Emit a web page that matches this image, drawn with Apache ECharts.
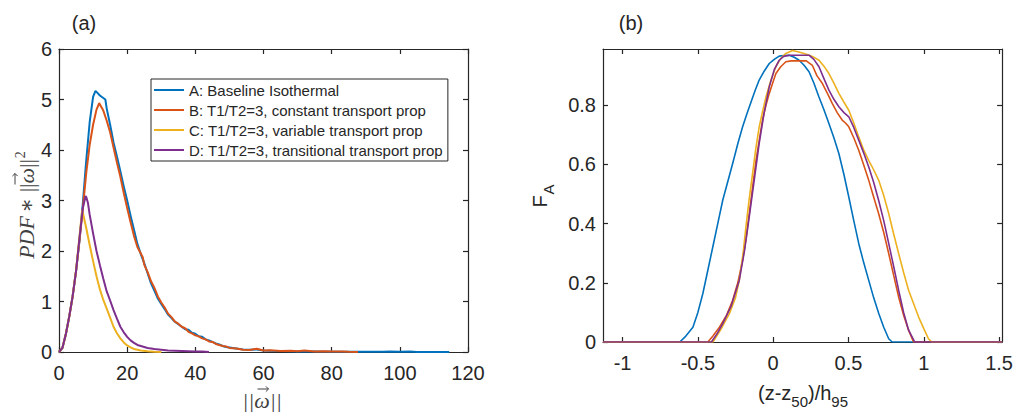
<!DOCTYPE html>
<html>
<head>
<meta charset="utf-8">
<script src="https://cdn.jsdelivr.net/npm/echarts@6/dist/echarts.min.js"></script>
<style>
  html, body { margin: 0; padding: 0; background: #ffffff; }
  #chart { width: 1016px; height: 412px; }
</style>
</head>
<body>
<div id="chart"></div>
<script>
// Case names and line colours
const caseNames = [
  'A: Baseline Isothermal',
  'B: T1/T2=3, constant transport prop',
  'C: T1/T2=3, variable transport prop',
  'D: T1/T2=3, transitional transport prop'
];
const caseColors = ['#0072BD', '#D95319', '#EDB120', '#7E2F8E'];

// Panel (a): PDF * ||w||^2 versus vorticity magnitude ||w||
const vortA_x = [0,1,2,3,4,5,6,7,8,9,10,10.7,11,12,13,13.6,14,15,16,17,18,19,20,21,22,23,24,25,26,27,28,29,30,31,32,33,34,35,36,37,38,39,40,41,42,43,44,45,46,47,48,49,50,52,54,56,58,60,62,65,68,70,75,80,85,90,95,97,100,103,105,110,114.5];
const vortA_y = [0,0.08,0.35,0.7,1.1,1.6,2.2,2.95,3.8,4.55,5.05,5.17,5.15,5.08,5.03,5.0,4.82,4.5,4.15,3.87,3.58,3.28,3.0,2.7,2.42,2.14,1.94,1.76,1.56,1.36,1.21,1.06,0.95,0.85,0.74,0.67,0.6,0.55,0.5,0.45,0.44,0.38,0.36,0.31,0.3,0.25,0.23,0.2,0.17,0.15,0.12,0.1,0.09,0.07,0.05,0.045,0.05,0.03,0.025,0.02,0.015,0.01,0.012,0.006,0.005,0.003,0.004,0.012,0.003,0.008,0.002,0.002,0];
const vortB_x = [0,1,2,3,4,5,6,7,8,9,10,11,11.8,12,13,14,15,16,17,18,19,20,21,22,23,24,24.6,25,26,27,28,29,30,31,32,33,34,35,36,37,38,39,40,41,42,43,44,45,46,47,48,49,50,52,54,56,58,60,62,65,68,70,72,75,78,80,83,85,87.7];
const vortB_y = [0,0.08,0.35,0.7,1.1,1.6,2.2,2.85,3.55,4.1,4.5,4.8,4.93,4.9,4.78,4.58,4.35,4.05,3.75,3.47,3.15,2.85,2.57,2.3,2.08,1.95,1.87,1.73,1.58,1.4,1.27,1.1,0.98,0.88,0.76,0.69,0.6,0.56,0.5,0.47,0.4,0.37,0.33,0.31,0.27,0.25,0.21,0.2,0.16,0.14,0.12,0.11,0.08,0.07,0.045,0.04,0.065,0.03,0.035,0.02,0.025,0.015,0.03,0.01,0.015,0.008,0.01,0.005,0];
const vortC_x = [0,1,2,3,4,5,6,6.8,7,8,9,10,11,12,13,14,15,16,17,18,19,20,21,22,24,26,28,30];
const vortC_y = [0,0.08,0.35,0.7,1.1,1.62,2.28,2.81,2.76,2.45,2.12,1.8,1.5,1.24,1.03,0.86,0.68,0.5,0.37,0.27,0.19,0.13,0.09,0.06,0.03,0.015,0.006,0];
const vortD_x = [0,1,2,3,4,5,6,7,7.8,8,8.5,9,10,11,12,13,14,15,16,17,18,19,20,21,22,23,24,25,26,27,28,30,32,34,36,38,40,42,44];
const vortD_y = [0,0.08,0.35,0.7,1.1,1.6,2.25,2.85,3.09,3.07,2.95,2.72,2.35,2.0,1.72,1.45,1.2,1.02,0.83,0.66,0.5,0.39,0.3,0.23,0.18,0.14,0.12,0.1,0.08,0.07,0.06,0.045,0.03,0.025,0.02,0.015,0.01,0.008,0];

// Panel (b): F_A versus (z - z50)/h95
const profA_x = [-1.13,-0.62,-0.58,-0.533,-0.5,-0.467,-0.435,-0.401,-0.368,-0.335,-0.3,-0.269,-0.235,-0.203,-0.175,-0.147,-0.12,-0.093,-0.06,-0.026,0.007,0.04,0.075,0.106,0.14,0.172,0.205,0.238,0.27,0.304,0.337,0.37,0.403,0.436,0.47,0.502,0.535,0.568,0.6,0.634,0.667,0.701,0.734,0.767,0.79,1.52];
const profA_y = [0,0,0.02,0.05,0.1,0.164,0.24,0.321,0.4,0.479,0.545,0.603,0.67,0.727,0.77,0.811,0.85,0.885,0.915,0.941,0.955,0.966,0.968,0.969,0.962,0.952,0.935,0.913,0.875,0.828,0.785,0.738,0.69,0.637,0.565,0.49,0.41,0.333,0.27,0.209,0.15,0.096,0.05,0.011,0,0];
const profB_x = [-1.13,-0.434,-0.4,-0.357,-0.31,-0.269,-0.235,-0.203,-0.18,-0.159,-0.135,-0.114,-0.09,-0.071,-0.048,-0.026,0,0.018,0.05,0.084,0.12,0.17,0.22,0.26,0.29,0.326,0.36,0.392,0.425,0.458,0.48,0.502,0.535,0.568,0.6,0.634,0.667,0.7,0.734,0.767,0.8,0.833,0.866,0.899,0.932,1.52];
const profB_y = [0,0,0.02,0.05,0.09,0.141,0.2,0.276,0.35,0.434,0.53,0.614,0.69,0.75,0.8,0.84,0.88,0.907,0.93,0.947,0.95,0.95,0.95,0.935,0.9,0.874,0.84,0.806,0.775,0.75,0.74,0.727,0.69,0.648,0.6,0.547,0.49,0.434,0.37,0.299,0.225,0.152,0.09,0.04,0,0];
const profC_x = [-1.13,-0.4,-0.35,-0.291,-0.25,-0.225,-0.2,-0.181,-0.16,-0.137,-0.115,-0.093,-0.07,-0.048,-0.015,0.018,0.05,0.084,0.128,0.17,0.216,0.26,0.304,0.337,0.37,0.403,0.436,0.47,0.502,0.535,0.568,0.6,0.634,0.667,0.7,0.734,0.767,0.8,0.833,0.866,0.899,0.932,0.965,1.0,1.031,1.053,1.52];
const profC_y = [0,0,0.04,0.096,0.15,0.209,0.3,0.389,0.48,0.569,0.655,0.727,0.78,0.828,0.885,0.93,0.958,0.975,0.985,0.98,0.973,0.965,0.952,0.932,0.907,0.875,0.84,0.81,0.783,0.74,0.693,0.65,0.614,0.582,0.547,0.495,0.434,0.365,0.299,0.235,0.175,0.13,0.085,0.045,0.011,0,0];
const profD_x = [-1.13,-0.41,-0.37,-0.335,-0.28,-0.225,-0.19,-0.159,-0.125,-0.093,-0.06,-0.026,0.007,0.04,0.07,0.106,0.17,0.238,0.27,0.304,0.337,0.37,0.403,0.436,0.47,0.502,0.535,0.568,0.6,0.634,0.667,0.7,0.734,0.767,0.8,0.833,0.866,0.899,0.94,1.52];
const profD_y = [0,0,0.03,0.062,0.12,0.209,0.31,0.423,0.55,0.671,0.775,0.862,0.92,0.952,0.965,0.969,0.969,0.969,0.955,0.93,0.89,0.851,0.82,0.795,0.775,0.761,0.725,0.682,0.64,0.592,0.54,0.479,0.41,0.333,0.255,0.175,0.1,0.04,0,0];

// Tick values
const ticksA_x = [0, 20, 40, 60, 80, 100, 120];
const ticksA_y = [0, 1, 2, 3, 4, 5, 6];
const ticksB_x = [-1, -0.5, 0, 0.5, 1, 1.5];
const ticksB_y = [0, 0.2, 0.4, 0.6, 0.8];

const zip = (xs, ys) => xs.map((x, i) => [x, ys[i]]);
const ink = '#262626';
const mathInk = '#404040';
const sans = 'Liberation Sans, Arial, Helvetica, sans-serif';
const serif = 'Liberation Serif, DejaVu Serif, serif';

function axis(kind, gridIndex, min, max, ticks, position, labelled) {
  return {
    type: 'value', gridIndex, min, max, position,
    axisLine: { show: true, onZero: false, lineStyle: { color: ink, width: 1.2 } },
    axisTick: { show: true, inside: true, length: 5, customValues: ticks, lineStyle: { color: ink, width: 1.2 } },
    axisLabel: {
      show: labelled, customValues: ticks, color: ink, fontSize: 20, fontFamily: sans,
      margin: kind === 'x' ? 11 : 7
    },
    splitLine: { show: false }
  };
}

const chart = echarts.init(document.getElementById('chart'), null, { renderer: 'svg' });

const seriesA = [vortA_x, vortB_x, vortC_x, vortD_x].map((xs, i) => ({
  name: caseNames[i], type: 'line', xAxisIndex: 0, yAxisIndex: 0, symbol: 'none',
  data: zip(xs, [vortA_y, vortB_y, vortC_y, vortD_y][i]),
  lineStyle: { color: caseColors[i], width: 2 }, itemStyle: { color: caseColors[i] },
  animation: false
}));
const seriesB = [profA_x, profB_x, profC_x, profD_x].map((xs, i) => ({
  name: caseNames[i], type: 'line', xAxisIndex: 2, yAxisIndex: 2, symbol: 'none',
  data: zip(xs, [profA_y, profB_y, profC_y, profD_y][i]),
  lineStyle: { color: caseColors[i], width: 1.6 }, itemStyle: { color: caseColors[i] },
  animation: false
}));

// vector accent over an omega, drawn as a tiny arrow (horizontal or pointing up)
function vecAccent(cx, cy, vertical) {
  const L = 5.5, H = 2.6;
  const shaft = vertical ? [[cx, cy + L], [cx, cy - L]] : [[cx - L, cy], [cx + L, cy]];
  const head = vertical
    ? [[cx - H, cy - L + H], [cx, cy - L], [cx + H, cy - L + H]]
    : [[cx + L - H, cy - H], [cx + L, cy], [cx + L - H, cy + H]];
  const st = { stroke: mathInk, lineWidth: 1, fill: null };
  return { type: 'group', children: [
    { type: 'polyline', shape: { points: shaft }, style: st },
    { type: 'polyline', shape: { points: head }, style: st }
  ] };
}

chart.setOption({
  animation: false,
  backgroundColor: '#ffffff',
  grid: [
    { left: 59, top: 49, width: 409, height: 303 },
    { left: 603, top: 49, width: 401, height: 293 }
  ],
  xAxis: [
    axis('x', 0, 0, 120, ticksA_x, 'bottom', true),
    axis('x', 0, 0, 120, ticksA_x, 'top', false),
    axis('x', 1, -1.13, 1.52, ticksB_x, 'bottom', true),
    axis('x', 1, -1.13, 1.52, ticksB_x, 'top', false)
  ],
  yAxis: [
    axis('y', 0, 0, 6, ticksA_y, 'left', true),
    axis('y', 0, 0, 6, ticksA_y, 'right', false),
    axis('y', 1, 0, 0.99, ticksB_y, 'left', true),
    axis('y', 1, 0, 0.99, ticksB_y, 'right', false)
  ],
  legend: {
    data: caseNames, orient: 'vertical', left: 151, top: 79,
    icon: 'rect', itemWidth: 30, itemHeight: 2, itemGap: 0,
    padding: [1, 5, 1, 3], borderColor: ink, borderWidth: 1, backgroundColor: '#ffffff',
    selectedMode: false,
    textStyle: { fontSize: 15, lineHeight: 20, color: ink, fontFamily: sans }
  },
  graphic: [
    { type: 'text', x: 84, y: 23, style: { text: '(a)', fill: ink, font: '20px ' + sans, align: 'center', verticalAlign: 'middle' } },
    { type: 'text', x: 631, y: 23, style: { text: '(b)', fill: ink, font: '20px ' + sans, align: 'center', verticalAlign: 'middle' } },
    // x label of panel (a): ||w|| with vector accent
    { type: 'text', x: 262, y: 400, style: {
        text: '||ω||', fill: mathInk, font: 'italic 22px ' + serif,
        align: 'center', verticalAlign: 'middle' } },
    vecAccent(263, 389, false),
    // y label of panel (a): PDF * ||w||^2
    { type: 'text', x: 25, y: 205, rotation: Math.PI / 2, style: {
        text: '{i|PDF} {n|∗ ||}{i|ω}{n|||}{p|2}', fill: mathInk, align: 'center', verticalAlign: 'middle',
        rich: {
          i: { fontSize: 22, fontStyle: 'italic', fontFamily: serif, fill: mathInk, verticalAlign: 'bottom' },
          n: { fontSize: 22, fontFamily: serif, fill: mathInk, verticalAlign: 'bottom' },
          p: { fontSize: 14, fontFamily: serif, fill: mathInk, verticalAlign: 'top', padding: [0, 0, 10, 1] }
        } } },
    vecAccent(15, 179, true),
    { type: 'text', x: 543, y: 196, rotation: Math.PI / 2, style: {
        text: '{a|F}{s|A}', fill: ink, align: 'center', verticalAlign: 'middle',
        rich: {
          a: { fontSize: 20, fontFamily: sans, fill: ink, verticalAlign: 'top' },
          s: { fontSize: 15, fontFamily: sans, fill: ink, verticalAlign: 'bottom', padding: [11, 0, 0, 1] }
        } } },
    { type: 'text', x: 803, y: 396, style: {
        text: '{a|(z-z}{s|50}{a|)/h}{s|95}', fill: ink, align: 'center', verticalAlign: 'middle',
        rich: {
          a: { fontSize: 20, fontFamily: sans, fill: ink, verticalAlign: 'top' },
          s: { fontSize: 15, fontFamily: sans, fill: ink, verticalAlign: 'bottom', padding: [11, 0, 0, 0] }
        } } }
  ],
  series: seriesA.concat(seriesB)
});
</script>
</body>
</html>
